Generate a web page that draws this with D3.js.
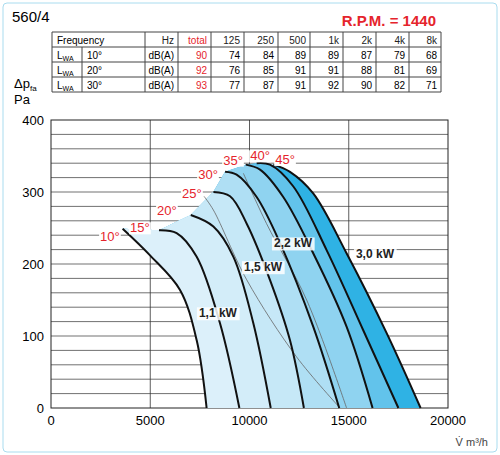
<!DOCTYPE html><html><head><meta charset="utf-8">
<script src="https://cdn.jsdelivr.net/npm/d3@7"></script>
<style>body{margin:0;background:#fff}text{font-family:"Liberation Sans",Arial,sans-serif}</style></head><body>
<svg id="c" width="500" height="455"></svg>
<script>
const angles=["10°","15°","20°","25°","30°","35°","40°","45°"];
const anglePos=[[2970,232],[4480,244],[5840,268],[7100,292],[7910,318],[9170,338],[10530,344],[11790,339]];
const curves=[
[[3610,249],[4990,212],[6500,164],[7340,94],[7840,0]],
[[5440,247],[6330,243],[7340,210],[8510,118],[9490,0]],
[[7040,268],[8180,252],[9190,210],[10190,118],[11070,0]],
[[8180,300],[9020,294],[9860,256],[11030,178],[12040,94],[12740,0]],
[[8770,328],[9350,324],[10360,293],[11540,229],[13210,113],[14520,0]],
[[9810,338],[10530,331],[11700,293],[13210,215],[14890,113],[16200,0]],
[[10360,340],[11030,338],[12200,308],[13890,219],[15730,108],[17500,0]],
[[11200,338],[12040,328],[13210,298],[14890,215],[16910,104],[18620,0]]];
const powerLines=[[[7710,294],[8180,275],[9860,178],[12370,71],[14560,0]],
[[9690,326],[10860,256],[12880,150],[14890,0]]];
const powerLabels=["1,1 kW","1,5 kW","2,2 kW","3,0 kW"];
const powerPos=[[8410,126],[10680,190],[12190,223],[16320,209]];
const xTicks=[0,5000,10000,15000,20000], yTicks=[0,100,200,300,400];
const freqCols=["Hz","total","125","250","500","1k","2k","4k","8k"];
const rowAngles=["10°","20°","30°"];
const totals=[90,92,93];
const bands=[[74,84,89,89,87,79,68],[76,85,91,91,88,81,69],[77,87,91,92,90,82,71]];
const fills=["#e3f3fb","#dcf0fa","#d3edf9","#c6e8f7","#afdff4","#8fd3f0","#62c3eb","#2fb2e4"];

const svg=d3.select("#c");
svg.append("rect").attr("x",3).attr("y",3).attr("width",494).attr("height",449).attr("rx",4).attr("fill","none").attr("stroke","#a9dcef");
svg.append("text").attr("x",12).attr("y",22).attr("font-size",15).text("560/4");
svg.append("text").attr("x",436).attr("y",26).attr("text-anchor","end").attr("font-size",15).attr("font-weight","bold").attr("fill","#e5242c").text("R.P.M. = 1440");
const cx=[52,145,178,211,244,278,310,343,376,409,441], ty=[32,47,62,77,92];
const tg=svg.append("g").attr("font-size",10);
ty.forEach(y=>tg.append("line").attr("x1",52).attr("x2",441).attr("y1",y).attr("y2",y).attr("stroke","#444"));
cx.forEach(x=>tg.append("line").attr("x1",x).attr("x2",x).attr("y1",32).attr("y2",92).attr("stroke","#444"));
tg.append("line").attr("x1",82).attr("x2",82).attr("y1",47).attr("y2",92).attr("stroke","#444");
tg.append("text").attr("x",57).attr("y",44).text("Frequency");
freqCols.forEach((t,i)=>tg.append("text").attr("x",cx[i+2]-4).attr("y",44).attr("text-anchor","end").attr("fill",i==1?"#e5242c":"#222").text(t));
rowAngles.forEach((a,r)=>{const y=ty[r+1]+12;
 const t=tg.append("text").attr("x",57).attr("y",y);t.append("tspan").text("L");t.append("tspan").attr("font-size",7).attr("dy",2).text("WA");
 tg.append("text").attr("x",87).attr("y",y).text(a);
 tg.append("text").attr("x",174).attr("y",y).attr("text-anchor","end").text("dB(A)");
 tg.append("text").attr("x",207).attr("y",y).attr("text-anchor","end").attr("fill","#e5242c").text(totals[r]);
 bands[r].forEach((v,i)=>tg.append("text").attr("x",cx[i+4]-4).attr("y",y).attr("text-anchor","end").text(v));});
const x=d3.scaleLinear().domain([0,20000]).range([51,448]);
const y=d3.scaleLinear().domain([0,400]).range([408,120]);
const g=svg.append("g");
d3.range(20,400,20).forEach(v=>g.append("line").attr("x1",51).attr("x2",448).attr("y1",y(v)).attr("y2",y(v)).attr("stroke","#333").attr("stroke-width",0.7));
[5000,10000,15000].forEach(v=>g.append("line").attr("x1",x(v)).attr("x2",x(v)).attr("y1",120).attr("y2",408).attr("stroke","#333").attr("stroke-width",0.8));
g.append("rect").attr("x",51).attr("y",120).attr("width",397).attr("height",288).attr("fill","none").attr("stroke","#222");
const line=d3.line().x(d=>x(d[0])).y(d=>y(d[1])).curve(d3.curveMonotoneX);
const smooth=d3.line().x(d=>x(d[0])).y(d=>y(d[1])).curve(d3.curveCatmullRom);
for(let i=curves.length-1;i>=1;i--){
 const left=curves[0].slice().reverse();
 const tops=[];for(let k=1;k<i;k++)tops.push(curves[k][0]);
 const d=left.concat(tops).concat(curves[i]);
 const p=smooth(curves[0]); // unused
 const leftPath=smooth(left), rightPath=smooth(curves[i]);
 g.append("path").attr("d",leftPath+"L"+tops.concat([curves[i][0]]).map(q=>x(q[0])+","+y(q[1])).join("L")+rightPath.replace(/^M/,"L")+"Z").attr("fill",fills[i]);
}
powerLines.forEach(p=>g.append("path").attr("d",smooth(p)).attr("fill","none").attr("stroke","#666").attr("stroke-width",0.8));
curves.forEach(c=>g.append("path").attr("d",smooth(c)).attr("fill","none").attr("stroke","#111").attr("stroke-width",2));
angles.forEach((a,i)=>{
 const t=g.append("text").attr("x",x(anglePos[i][0])).attr("y",y(anglePos[i][1])).attr("text-anchor","middle").attr("font-size",13).attr("fill","#e5242c").text(a);
 const b=t.node().getBBox();g.insert("rect","text").attr("x",b.x-1).attr("y",b.y+2).attr("width",b.width+2).attr("height",b.height-3).attr("fill","#fff");});
powerLabels.forEach((l,i)=>{const t=g.append("text").attr("x",x(powerPos[i][0])).attr("y",y(powerPos[i][1])).attr("text-anchor","middle").attr("font-size",12).attr("font-weight","bold").attr("fill","#222").text(l);
 const b=t.node().getBBox();g.insert("rect","text").attr("x",b.x-2).attr("y",b.y+1).attr("width",b.width+4).attr("height",b.height-1).attr("fill","#fff").attr("opacity",0.85);});
g.selectAll("text").raise();
xTicks.forEach(v=>svg.append("text").attr("x",x(v)).attr("y",425).attr("text-anchor","middle").attr("font-size",13).text(v));
yTicks.forEach(v=>svg.append("text").attr("x",44).attr("y",y(v)+5).attr("text-anchor","end").attr("font-size",13).text(v));
const yl=svg.append("text").attr("x",14).attr("y",88).attr("font-size",13);yl.append("tspan").text("Δp");yl.append("tspan").attr("font-size",8).attr("dy",3).text("fa");
svg.append("text").attr("x",14).attr("y",104).attr("font-size",13).text("Pa");
svg.append("text").attr("x",488).attr("y",446).attr("text-anchor","end").attr("font-size",11).attr("fill","#444").text("V̇ m³/h");
</script></body></html>
